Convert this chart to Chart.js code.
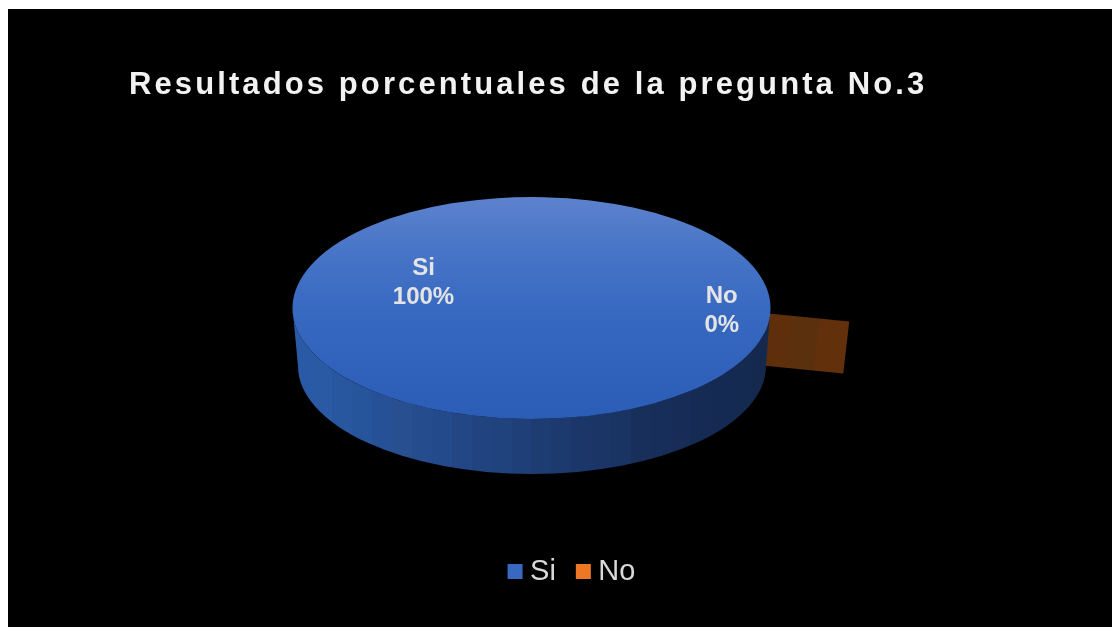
<!DOCTYPE html>
<html lang="es">
<head>
<meta charset="utf-8">
<title>Resultados porcentuales</title>
<script src="https://cdn.jsdelivr.net/npm/chart.js@4"></script>
<style>
  html, body { margin: 0; height: 100%; background: #fff; overflow: hidden; }
  #grafico { position: absolute; left: 8px; top: 9px; background: #000; }
</style>
</head>
<body>
<canvas id="grafico" width="1104" height="618"></canvas>
<script>
// ── Datos ──
const titulo     = 'Resultados porcentuales de la pregunta No.3';
const categorias = ['Si', 'No'];
const valores    = [100, 0];

// ── Estilo ──
const COLOR_LEYENDA = ['#3868c0', '#ee7726'];
const TEXTO         = '#e4e4e4';

// Elipse superior del "pastel 3D", en px del canvas
const ELIPSE  = { x: 523.5, y: 299, rx: 239, ry: 111 };
const BASE    = { x: 524, y: 357, rx: 234, ry: 108 };

// Facetas de la pared lateral, de izquierda a derecha
const FACETAS = ['#2a5aa6','#2a5aa4','#28569f','#27559c','#265196','#284f90','#254d8e','#234a8a',
                 '#224784','#214480','#20427d','#1f3f78','#1d3c72','#1c3a6e','#1b376a','#1a3566',
                 '#193362','#182f5c','#172e5a','#172d57','#162b54','#152a52','#152a50','#15294e'];
const FACETAS_NO = ['#5f2f0b', '#5a300d', '#62300a'];

// Posición de las etiquetas, como fracción de los radios
const POS_ETIQ = [{ fx: -0.452, fy: -0.226 }, { fx: 0.796, fy: 0.024 }];

function gradienteTapa(chart) {
  const area = chart.chartArea;
  if (!area) return '#3868c0';
  const g = chart.ctx.createLinearGradient(0, area.top, 0, area.bottom);
  g.addColorStop(0, '#5c82cd');
  g.addColorStop(0.28, '#4573c6');
  g.addColorStop(0.55, '#3668c0');
  g.addColorStop(1, '#2b5cb6');
  return g;
}

function pared(ctx) {
  const g = ctx.createLinearGradient(ELIPSE.x - ELIPSE.rx, 0, ELIPSE.x + ELIPSE.rx, 0);
  FACETAS.forEach((c, i) => {
    g.addColorStop(i / FACETAS.length, c);
    g.addColorStop((i + 1) / FACETAS.length, c);
  });
  ctx.beginPath();
  ctx.ellipse(ELIPSE.x, ELIPSE.y, ELIPSE.rx, ELIPSE.ry, 0, Math.PI, 0, true);
  ctx.lineTo(BASE.x + BASE.rx, BASE.y);
  ctx.ellipse(BASE.x, BASE.y, BASE.rx, BASE.ry, 0, 0, Math.PI);
  ctx.closePath();
  ctx.fillStyle = g;
  ctx.fill();
}

// Cara de la porción de 0 %: sale del borde en el ángulo que da el arco
function caraPorcion(ctx, arco) {
  const px = ELIPSE.x + ELIPSE.rx * Math.cos(arco.startAngle);
  const py = ELIPSE.y + ELIPSE.ry * Math.sin(arco.startAngle);
  const largo = ELIPSE.rx * 0.335, alto = 52;
  ctx.save();
  ctx.translate(px - 4, py - 0.5);
  ctx.transform(1, 0.1, -0.115, 1, 0, 0);
  const g = ctx.createLinearGradient(0, 0, largo, 0);
  FACETAS_NO.forEach((c, i) => {
    g.addColorStop(i / FACETAS_NO.length, c);
    g.addColorStop((i + 1) / FACETAS_NO.length, c);
  });
  ctx.fillStyle = g;
  ctx.fillRect(0, 0, largo + 3, alto);
  ctx.restore();
}

// ── Plugin: convierte el pie plano en el pastel con perspectiva ──
const pastel3d = {
  id: 'pastel3d',
  afterLayout(chart) {
    const tb = chart.titleBlock;
    if (tb && !tb._parcheado) {
      const dibujar = tb.draw.bind(tb);
      tb.draw = () => {
        const ctx = chart.ctx;
        ctx.save();
        ctx.letterSpacing = '3.1px';
        ctx.translate(91, 0);
        dibujar();
        ctx.restore();
      };
      tb._parcheado = true;
    }
  },
  beforeDatasetDraw(chart, args) {
    const ctx = chart.ctx;
    const arcos = chart.getDatasetMeta(args.index).data;
    const a = arcos[0];
    caraPorcion(ctx, arcos[1]);
    pared(ctx);
    ctx.save();
    ctx.translate(ELIPSE.x, ELIPSE.y);
    ctx.scale(ELIPSE.rx / a.outerRadius, ELIPSE.ry / a.outerRadius);
    ctx.translate(-a.x, -a.y);
  },
  afterDatasetDraw(chart) {
    chart.ctx.restore();
  },
  afterDatasetsDraw(chart) {
    const ctx = chart.ctx;
    const total = valores.reduce((s, v) => s + v, 0);
    ctx.save();
    ctx.font = 'bold 24px "Liberation Sans", Arial, sans-serif';
    ctx.fillStyle = TEXTO;
    ctx.textAlign = 'center';
    ctx.textBaseline = 'middle';
    categorias.forEach((c, i) => {
      const x = ELIPSE.x + POS_ETIQ[i].fx * ELIPSE.rx;
      const y = ELIPSE.y + POS_ETIQ[i].fy * ELIPSE.ry;
      ctx.fillText(c, x, y - 14.5);
      ctx.fillText(Math.round(valores[i] / total * 100) + '%', x, y + 14.5);
    });
    ctx.restore();
  },
};

// ── Gráfico ──
new Chart(document.getElementById('grafico'), {
  type: 'pie',
  data: {
    labels: categorias,
    datasets: [{
      data: valores,
      backgroundColor: c => gradienteTapa(c.chart),
      borderWidth: 0,
    }],
  },
  options: {
    responsive: false,
    animation: false,
    rotation: 93,
    layout: { padding: { left: 30, bottom: 31 } },
    plugins: {
      tooltip: { enabled: false },
      title: {
        display: true,
        text: titulo,
        align: 'start',
        color: '#f2f2f2',
        font: { family: '"Liberation Sans", Arial, sans-serif', size: 31, weight: 'bold' },
        padding: { top: 58, bottom: 10 },
      },
      legend: {
        position: 'bottom',
        labels: {
          color: '#d9d9d9',
          font: { family: '"Liberation Sans", Arial, sans-serif', size: 29 },
          usePointStyle: true,
          boxWidth: 1,
          boxHeight: 15,
          padding: 27,
          generateLabels: chart => chart.data.labels.map((t, i) => ({
            text: t,
            index: i,
            fillStyle: COLOR_LEYENDA[i],
            strokeStyle: COLOR_LEYENDA[i],
            fontColor: '#d9d9d9',
            lineWidth: 0,
            pointStyle: 'rect',
          })),
        },
      },
    },
  },
  plugins: [pastel3d],
});
</script>
</body>
</html>
